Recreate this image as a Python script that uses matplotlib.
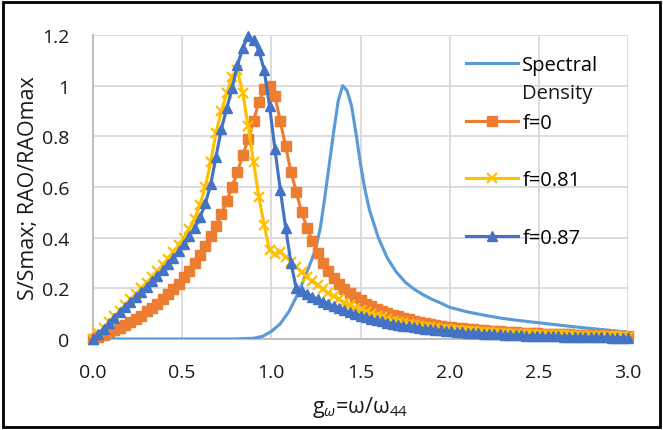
import matplotlib
matplotlib.use("Agg")
import matplotlib.pyplot as plt
from matplotlib.patches import Rectangle
import numpy as np

plt.rcParams['font.family'] = ['Open Sans', 'DejaVu Sans']
plt.rcParams['mathtext.fontset'] = 'custom'
plt.rcParams['mathtext.rm'] = 'Open Sans'
plt.rcParams['mathtext.it'] = 'Open Sans:italic'

# frequency ratio grid of the RAO series (step 0.03)
g = np.round(np.arange(101) * 0.03, 2)

rao_f0 = [
    0.000, 0.008, 0.017, 0.026, 0.035, 0.045, 0.055, 0.066, 0.077, 0.089,
    0.110, 0.124, 0.140, 0.157, 0.176, 0.197, 0.219, 0.243, 0.270, 0.300,
    0.332, 0.367, 0.405, 0.447, 0.493, 0.545, 0.600, 0.660, 0.725, 0.790,
    0.860, 0.935, 0.985, 1.000, 0.960, 0.860, 0.760, 0.660, 0.580, 0.500,
    0.440, 0.385, 0.340, 0.300, 0.270, 0.242, 0.218, 0.197, 0.180, 0.165,
    0.152, 0.140, 0.130, 0.120, 0.111, 0.103, 0.096, 0.089, 0.083, 0.077,
    0.072, 0.067, 0.063, 0.059, 0.055, 0.052, 0.049, 0.046, 0.044, 0.042,
    0.040, 0.038, 0.036, 0.034, 0.033, 0.031, 0.030, 0.029, 0.027, 0.026,
    0.025, 0.024, 0.023, 0.022, 0.021, 0.020, 0.020, 0.019, 0.018, 0.018,
    0.017, 0.016, 0.016, 0.015, 0.015, 0.014, 0.014, 0.013, 0.013, 0.012,
    0.012]

rao_f081 = [
    0.000, 0.022, 0.044, 0.066, 0.089, 0.111, 0.134, 0.156, 0.178, 0.200,
    0.222, 0.245, 0.268, 0.292, 0.317, 0.343, 0.370, 0.400, 0.435, 0.475,
    0.530, 0.600, 0.700, 0.815, 0.900, 0.970, 1.035, 1.060, 0.970, 0.840,
    0.700, 0.560, 0.450, 0.350, 0.335, 0.345, 0.325, 0.305, 0.285, 0.265,
    0.245, 0.228, 0.212, 0.196, 0.182, 0.168, 0.156, 0.144, 0.133, 0.123,
    0.114, 0.106, 0.098, 0.091, 0.085, 0.079, 0.073, 0.068, 0.064, 0.060,
    0.056, 0.052, 0.049, 0.046, 0.043, 0.041, 0.039, 0.037, 0.035, 0.033,
    0.031, 0.030, 0.028, 0.027, 0.026, 0.024, 0.023, 0.022, 0.021, 0.020,
    0.019, 0.019, 0.018, 0.017, 0.016, 0.016, 0.015, 0.015, 0.014, 0.014,
    0.013, 0.013, 0.012, 0.012, 0.011, 0.011, 0.011, 0.010, 0.010, 0.010,
    0.009]

rao_f087 = [
    0.000, 0.020, 0.040, 0.062, 0.084, 0.105, 0.126, 0.146, 0.166, 0.186,
    0.207, 0.228, 0.250, 0.272, 0.295, 0.320, 0.347, 0.375, 0.405, 0.440,
    0.480, 0.535, 0.610, 0.720, 0.830, 0.910, 0.990, 1.080, 1.150, 1.195,
    1.180, 1.140, 1.060, 0.920, 0.750, 0.590, 0.440, 0.300, 0.200, 0.190,
    0.178, 0.167, 0.157, 0.148, 0.139, 0.130, 0.122, 0.114, 0.106, 0.099,
    0.092, 0.086, 0.080, 0.075, 0.070, 0.065, 0.061, 0.057, 0.053, 0.050,
    0.047, 0.044, 0.041, 0.039, 0.036, 0.034, 0.032, 0.030, 0.028, 0.027,
    0.025, 0.024, 0.022, 0.021, 0.020, 0.019, 0.018, 0.017, 0.016, 0.015,
    0.014, 0.013, 0.013, 0.012, 0.011, 0.011, 0.010, 0.010, 0.009, 0.009,
    0.008, 0.008, 0.007, 0.007, 0.006, 0.006, 0.006, 0.005, 0.005, 0.005,
    0.004]

# normalised wave spectrum
spec_g = [0.0, 0.2, 0.4, 0.6, 0.8, 0.9, 0.95, 1.0, 1.05, 1.1, 1.15, 1.2,
          1.225, 1.25, 1.275, 1.3, 1.325, 1.35, 1.375, 1.4, 1.425, 1.45,
          1.475, 1.5, 1.525, 1.55, 1.6, 1.65, 1.7, 1.75, 1.8, 1.85, 1.9,
          1.95, 2.0, 2.1, 2.2, 2.3, 2.4, 2.5, 2.6, 2.7, 2.8, 2.9, 3.0]
spec = [0.0, 0.0, 0.0, 0.0, 0.0, 0.003, 0.01, 0.03, 0.06, 0.11, 0.18, 0.265,
        0.31, 0.36, 0.44, 0.56, 0.69, 0.82, 0.94, 1.0, 0.98, 0.92,
        0.81, 0.69, 0.59, 0.51, 0.40, 0.32, 0.265, 0.225, 0.197, 0.175,
        0.157, 0.142, 0.125, 0.107, 0.093, 0.081, 0.072, 0.064, 0.056, 0.048,
        0.041, 0.034, 0.027]

x_ticks = [0.0, 0.5, 1.0, 1.5, 2.0, 2.5, 3.0]
y_ticks = [0, 0.2, 0.4, 0.6, 0.8, 1.0, 1.2]
y_ticklabels = ['0', '0.2', '0.4', '0.6', '0.8', '1', '1.2']

fig = plt.figure(figsize=(6.63, 4.31), dpi=100)
ax = fig.add_axes([93 / 663, 1 - 340 / 431, 535 / 663, 304 / 431])

ax.plot(spec_g, spec, color='#5B9BD5', lw=2.25, label='Spectral', zorder=3)
ax.plot(g, rao_f0, color='#ED7D31', lw=2.25, marker='s', ms=6.5,
        label='f=0', zorder=4, clip_on=False)
ax.plot(g, rao_f081, color='#FFC000', lw=2.25, marker='x', ms=7.5, mew=1.6,
        label='f=0.81', zorder=5, clip_on=False)
ax.plot(g, rao_f087, color='#4472C4', lw=2.25, marker='^', ms=7,
        label='f=0.87', zorder=6, clip_on=False)

ax.set_xlim(0, 3.0)
ax.set_ylim(0, 1.2)
ax.set_xticks(x_ticks)
ax.set_xticklabels([f'{v:.1f}' for v in x_ticks])
ax.set_yticks(y_ticks)
ax.set_yticklabels(y_ticklabels)
ax.tick_params(length=0, labelsize=14, colors='#1a1a1a')
ax.tick_params(axis='x', pad=17)
ax.tick_params(axis='y', pad=17)
ax.grid(True, color='#D9D9D9', lw=1.3)
ax.set_axisbelow(True)
for s in ['top', 'right']:
    ax.spines[s].set_visible(False)
for s in ['left', 'bottom']:
    ax.spines[s].set_color('#BFBFBF')
    ax.spines[s].set_linewidth(1.5)
    ax.spines[s].set_zorder(2)

ax.set_ylabel('S/Smax; RAO/RAOmax', fontsize=15.5, labelpad=2, color='#1a1a1a')
ax.set_xlabel(r'g$_{\mathit{\omega}}$=ω/ω$_{\mathrm{44}}$', fontsize=15.5,
              labelpad=10, color='#1a1a1a')

leg = ax.legend(loc='upper left', bbox_to_anchor=(0.697, 0.935), frameon=False,
                fontsize=14.5, handlelength=2.6, handletextpad=0.2,
                labelspacing=1.88, borderpad=0, borderaxespad=0)
ax.annotate('Density', xy=(0, 0), xycoords=leg.get_texts()[0],
            xytext=(0, -6), textcoords='offset points', va='top', ha='left',
            fontsize=14.5, color='#1a1a1a', zorder=10)

fig.patches.append(Rectangle((0.004, 0.006), 0.992, 0.988,
                             transform=fig.transFigure, fill=False,
                             edgecolor='black', lw=2))

fig.savefig('out.png', dpi=100)
